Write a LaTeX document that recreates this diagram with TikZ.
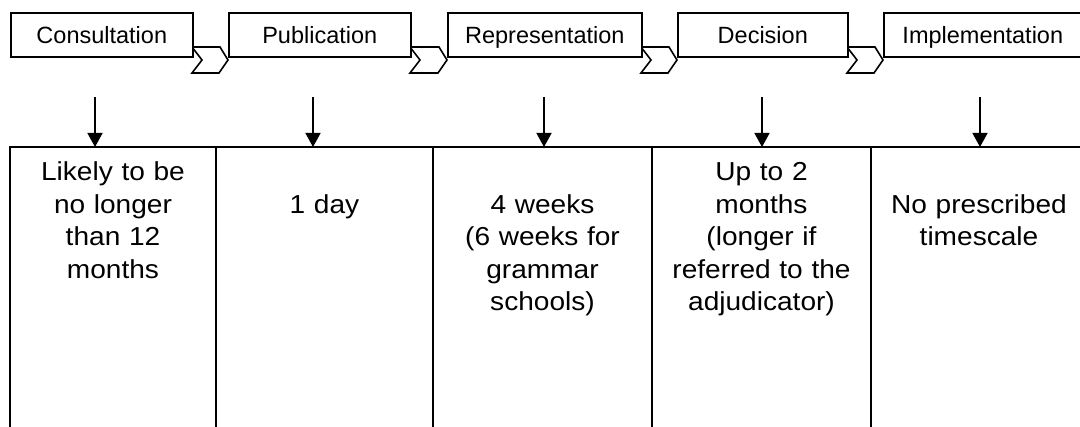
\documentclass[tikz,border=0pt]{standalone}
\usepackage{fontspec}
\setmainfont{Liberation Sans}
\newfontfamily\cellfont[FakeStretch=1.08]{Liberation Sans}
\usetikzlibrary{arrows.meta}
\begin{document}
\begin{tikzpicture}[x=1pt,y=-1pt,
  stagebox/.style={draw, line width=1.6pt, fill=white, anchor=north west, inner sep=0pt,
    minimum height=44pt, text height=22pt, text depth=5.4pt,
    font=\fontsize{23.5}{28}\selectfont},
  chev/.style={draw, line width=1.6pt, fill=white, line join=miter},
  arr/.style={line width=1.5pt, -{Triangle[width=15pt,length=14pt]}},
  rule/.style={line width=1.6pt},
  celltext/.style={anchor=base, align=center, text width=205pt, inner sep=0pt,
    font=\cellfont\fontsize{26}{32.5}\selectfont}]
\useasboundingbox (0,0) rectangle (1080,427);

% chevrons between stages
\foreach \r/\l in {192/228, 410/447, 641/677, 847/883}{
  \draw[chev] (\r,47) -- (\l-8,47) -- (\l,60) -- (\l-9,73) -- (\r,73) -- (\r+10,60) -- cycle;
}

% stage boxes
\node[stagebox, minimum width=182pt] (s1) at (10,12) {Consultation};
\node[stagebox, minimum width=182pt] (s2) at (228,12) {Publication};
\node[stagebox, minimum width=194pt] (s3) at (447,12) {Representation};
\node[stagebox, minimum width=170pt] (s4) at (677,12) {Decision};
\node[stagebox, minimum width=198pt] (s5) at (883,12) {Implementation};

% arrows
\foreach \i/\x in {1/95, 2/313, 3/544, 4/762, 5/980}{
  \coordinate (a\i) at (\x,97);
  \coordinate (t\i) at (\x,147);
  \draw[arr] (a\i) -- (t\i);
}

% table
\draw[rule] (10,428) -- (10,147) -- (1081,147);
\foreach \x in {216, 433, 652, 871}{
  \draw[rule] (\x,147) -- (\x,428);
}

% cell texts
\node[celltext] (c1) at (113,180.7) {Likely to be\\no longer\\than 12\\months};
\node[celltext] (c2) at (324.5,213.3) {1 day};
\node[celltext] (c3) at (542.5,213.3) {4 weeks\\(6 weeks for\\grammar\\schools)};
\node[celltext] (c4) at (761.5,180.7) {Up to 2\\months\\(longer if\\referred to the\\adjudicator)};
\node[celltext] (c5) at (979,213.3) {No prescribed\\timescale};
\end{tikzpicture}
\end{document}
